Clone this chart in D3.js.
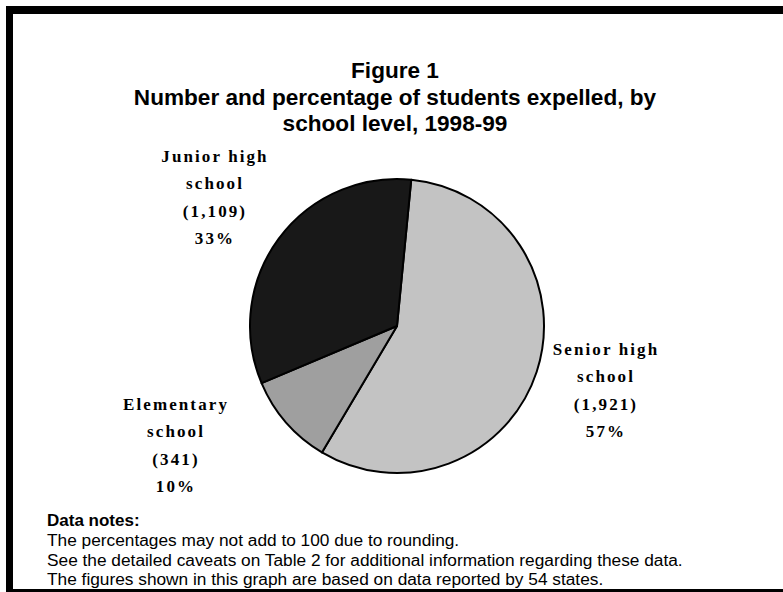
<!DOCTYPE html>
<html>
<head>
<meta charset="utf-8">
<script src="https://cdn.jsdelivr.net/npm/d3@7"></script>
<style>
  html, body { margin: 0; padding: 0; background: #fff; }
  svg { display: block; }
</style>
</head>
<body>
<svg id="chart" width="783" height="592"></svg>
<script>
// ---- Data ----
const categories = ["Senior high school", "Elementary school", "Junior high school"];
const counts = [1921, 341, 1109];
const percents = ["57%", "10%", "33%"];
const countLabels = ["(1,921)", "(341)", "(1,109)"];
const labelLines = [["Senior high", "school"], ["Elementary", "school"], ["Junior high", "school"]];
const titleLines = ["Figure 1", "Number and percentage of students expelled, by", "school level, 1998-99"];
const notesTitle = "Data notes:";
const notes = [
  "The percentages may not add to 100 due to rounding.",
  "See the detailed caveats on Table 2 for additional information regarding these data.",
  "The figures shown in this graph are based on data reported by 54 states."
];

// ---- Styles / layout ----
const W = 783, H = 592;
const fills = ["#c3c3c3", "#9f9f9f", "#181818"];
const cx = 397, cy = 326, R = 147;
const labelPos = [[606, 355], [176, 410], [215, 162]];
const lineGap = 27.3;

const svg = d3.select("#chart");

// Frame
svg.append("rect").attr("x", 0).attr("y", 0).attr("width", W).attr("height", H).attr("fill", "#fff");
svg.append("rect").attr("x", 6).attr("y", 6).attr("width", W - 6).attr("height", 8).attr("fill", "#000");
svg.append("rect").attr("x", 6).attr("y", 6).attr("width", 7).attr("height", 584).attr("fill", "#000");
svg.append("rect").attr("x", 6).attr("y", 589).attr("width", W - 6).attr("height", 3).attr("fill", "#000");

// Title
const title = svg.append("g")
  .attr("font-family", "'Liberation Sans', Arial, sans-serif")
  .attr("font-weight", "bold")
  .attr("font-size", 22.6)
  .attr("text-anchor", "middle")
  .attr("fill", "#000");
titleLines.forEach((t, i) => {
  title.append("text").attr("x", 395).attr("y", 78 + i * 26.5).text(t);
});

// Pie
const pie = d3.pie().sort(null).value(d => d).startAngle(0.097).endAngle(0.097 + 2 * Math.PI);
const arc = d3.arc().innerRadius(0).outerRadius(R);
const g = svg.append("g").attr("transform", `translate(${cx},${cy})`);
g.selectAll("path.slice")
  .data(pie(counts))
  .join("path")
  .attr("class", "slice")
  .attr("d", arc)
  .attr("fill", (d, i) => fills[i])
  .attr("stroke", "#000")
  .attr("stroke-width", 2)
  .attr("stroke-linejoin", "round");

// Labels
const lab = svg.append("g")
  .attr("font-family", "'Liberation Serif', 'Times New Roman', serif")
  .attr("font-weight", "bold")
  .attr("font-size", 17)
  .attr("letter-spacing", "2.1px")
  .attr("text-anchor", "middle")
  .attr("fill", "#000");
categories.forEach((c, i) => {
  const lines = [...labelLines[i], countLabels[i], percents[i]];
  const [x, y] = labelPos[i];
  lines.forEach((t, j) => {
    lab.append("text").attr("x", x).attr("y", y + j * lineGap).text(t);
  });
});

// Notes
const nt = svg.append("g")
  .attr("font-family", "'Liberation Sans', Arial, sans-serif")
  .attr("fill", "#000");
nt.append("text").attr("x", 47).attr("y", 526).attr("font-weight", "bold").attr("font-size", 17).text(notesTitle);
notes.forEach((t, i) => {
  nt.append("text").attr("x", 47).attr("y", 546 + i * 19.5).attr("font-size", 17.3).text(t);
});
</script>
</body>
</html>
